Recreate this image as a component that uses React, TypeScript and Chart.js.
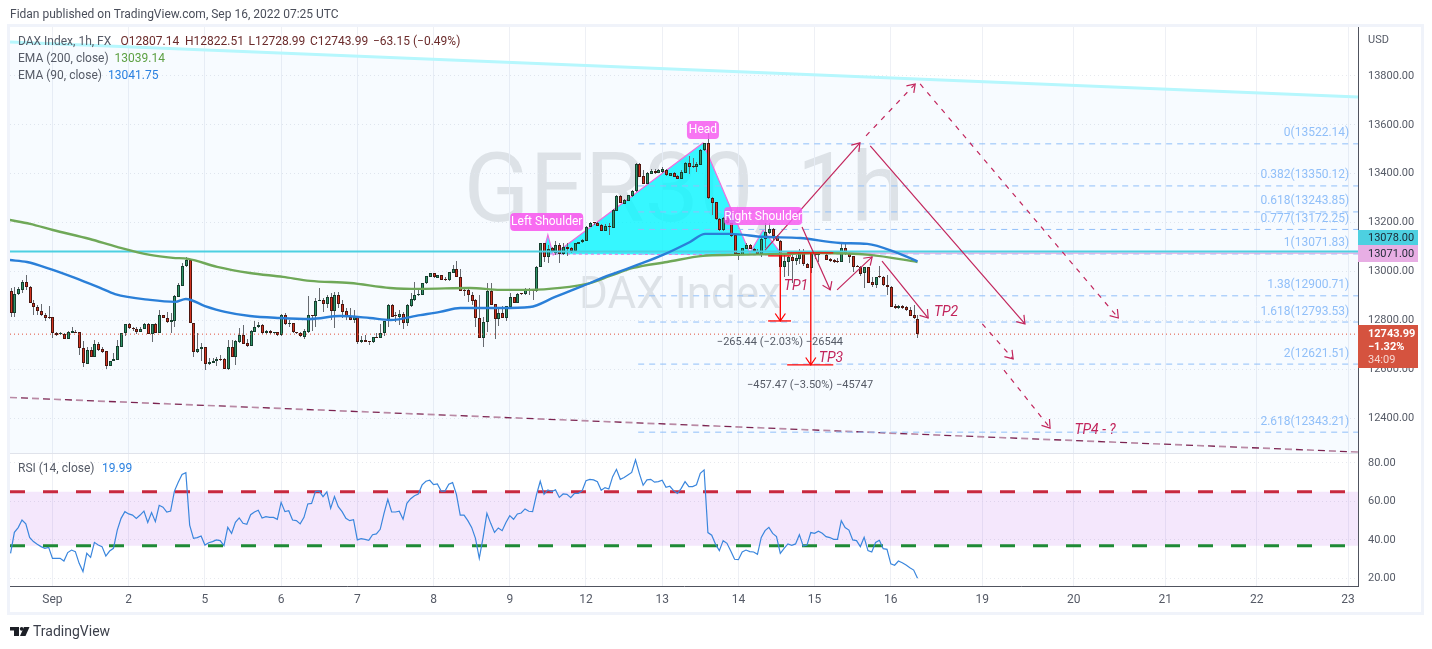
import { useEffect, useRef } from "react";
import { Chart, registerables } from "chart.js";
Chart.register(...registerables);

const opens = [
12921,12829,12907,12925,12959,12938,12873,12856,12840,12822,
12813,12813,12747,12743,12746,12726,12750,12754,12751,12686,
12623,12678,12652,12702,12682,12674,12615,12636,12638,12693,
12747,12784,12771,12766,12754,12766,12784,12746,12784,12750,
12821,12811,12795,12799,12897,12942,13023,13047,12791,12672,
12682,12690,12621,12627,12634,12641,12641,12603,12690,12652,
12713,12739,12706,12697,12754,12772,12780,12747,12756,12747,
12751,12739,12821,12784,12788,12751,12747,12734,12754,12820,
12820,12878,12884,12867,12895,12840,12903,12869,12837,12816,
12803,12813,12712,12720,12713,12712,12731,12730,12747,12796,
12862,12818,12816,12825,12791,12861,12884,12903,12905,12952,
12979,12993,12975,12985,12970,12964,12996,13009,12979,12925,
12925,12903,12884,12811,12730,12792,12919,12866,12807,12829,
12811,12856,12895,12873,12908,12907,12930,12921,12921,13020,
13115,13061,13095,13077,13107,13072,13099,13095,13084,13114,
13120,13126,13184,13199,13197,13189,13167,13186,13180,13249,
13309,13276,13289,13309,13330,13440,13391,13358,13400,13411,
13403,13407,13416,13392,13402,13391,13380,13405,13443,13428,
13429,13437,13495,13525,13300,13283,13214,13170,13218,13197,
13150,13075,13068,13094,13107,13092,13086,13072,13132,13156,
13173,13146,13126,13020,13041,13058,13045,13050,13086,13029,
13016,13071,13068,13075,13068,13052,13048,13041,13038,13095,
13071,13063,13020,13018,12993,13018,12956,12945,12979,12979,
12945,12938,12859,12849,12859,12857,12843,12823,12807.14];

const closes = [
12829,12907,12927,12959,12938,12873,12856,12840,12822,12811,
12811,12747,12742,12747,12726,12751,12756,12750,12686,12625,
12678,12652,12702,12679,12672,12615,12636,12641,12694,12747,
12784,12771,12765,12753,12766,12784,12746,12784,12750,12821,
12811,12795,12801,12900,12944,13023,13047,12791,12672,12682,
12690,12621,12630,12634,12641,12640,12603,12690,12652,12715,
12739,12705,12697,12756,12772,12780,12747,12756,12747,12750,
12739,12821,12784,12788,12751,12747,12735,12756,12821,12819,
12878,12884,12869,12895,12840,12903,12869,12836,12816,12803,
12813,12712,12720,12713,12712,12731,12730,12749,12796,12862,
12816,12817,12825,12791,12862,12886,12904,12908,12952,12980,
12993,12976,12985,12967,12964,12997,13009,12979,12922,12922,
12903,12881,12811,12730,12792,12919,12865,12807,12829,12811,
12858,12895,12873,12907,12907,12930,12921,12919,13020,13115,
13061,13094,13085,13107,13072,13099,13091,13084,13115,13120,
13129,13184,13199,13197,13188,13167,13186,13181,13251,13309,
13282,13293,13312,13330,13440,13388,13358,13402,13413,13402,
13416,13418,13394,13402,13388,13380,13409,13443,13429,13426,
13439,13497,13525,13300,13282,13214,13170,13218,13197,13146,
13072,13064,13095,13107,13092,13084,13072,13132,13162,13173,
13146,13126,13020,13043,13058,13043,13054,13086,13029,13016,
13072,13069,13075,13078,13049,13045,13037,13038,13095,13071,
13060,13020,13019,12990,13018,12955,12945,12977,12978,12943,
12938,12857,12850,12859,12850,12843,12820,12808,12743.99];

const highs = [
12931,12935,12935,12966,12986,12941,12884,12863,12867,12832,
12859,12813,12754,12754,12747,12756,12775,12761,12754,12716,
12690,12690,12720,12713,12693,12676,12636,12668,12720,12747,
12784,12788,12775,12772,12772,12791,12788,12786,12788,12843,
12824,12836,12829,12903,12952,13034,13058,13047,12791,12747,
12706,12690,12645,12645,12652,12659,12645,12720,12720,12720,
12768,12781,12723,12761,12798,12795,12786,12761,12761,12754,
12754,12826,12832,12802,12788,12754,12754,12764,12900,12822,
12891,12931,12891,12903,12914,12916,12918,12884,12850,12850,
12843,12813,12736,12741,12716,12734,12747,12786,12799,12867,
12867,12835,12843,12836,12867,12911,12957,12931,12955,12983,
12996,12996,12987,12987,12979,13000,13027,13043,13009,12931,
12927,12918,12886,12904,12813,12952,12952,12867,12856,12859,
12859,12911,12897,12911,12914,12931,12931,12927,13023,13118,
13118,13109,13102,13125,13115,13118,13118,13102,13118,13121,
13132,13186,13203,13203,13203,13195,13195,13197,13255,13313,
13312,13296,13315,13334,13445,13443,13416,13409,13418,13418,
13421,13426,13418,13405,13406,13395,13416,13450,13473,13463,
13450,13500,13527,13586,13304,13286,13218,13222,13225,13200,
13152,13077,13097,13116,13113,13095,13091,13136,13197,13197,
13177,13150,13129,13068,13064,13068,13068,13091,13091,13034,
13075,13078,13078,13082,13071,13054,13050,13054,13116,13113,
13078,13064,13027,13023,13020,13020,12979,12979,13023,12982,
12986,12941,12868,12862,12862,12859,12854,12864,12822.51];

const lows = [
12813,12813,12904,12911,12925,12870,12822,12822,12818,12799,
12805,12727,12736,12741,12726,12723,12747,12747,12659,12611,
12622,12649,12652,12676,12668,12601,12614,12636,12638,12693,
12738,12766,12758,12745,12753,12764,12745,12713,12747,12750,
12809,12788,12750,12775,12897,12941,13020,12788,12652,12668,
12636,12597,12618,12625,12614,12636,12600,12597,12652,12618,
12709,12704,12693,12696,12754,12769,12745,12745,12745,12745,
12736,12736,12781,12775,12747,12745,12731,12726,12747,12757,
12775,12878,12835,12852,12802,12771,12850,12809,12802,12800,
12788,12704,12706,12711,12700,12709,12728,12727,12736,12772,
12813,12795,12781,12764,12777,12856,12881,12900,12904,12949,
12979,12975,12974,12966,12961,12963,12996,12979,12919,12900,
12877,12863,12775,12727,12690,12754,12863,12723,12777,12809,
12798,12856,12870,12870,12906,12904,12904,12884,12918,13017,
13040,13036,13081,13068,13036,13068,13064,13075,13081,13113,
13118,13126,13181,13191,13186,13166,13166,13150,13178,13249,
13279,13275,13287,13306,13327,13385,13356,13358,13399,13399,
13402,13405,13391,13391,13385,13377,13379,13402,13399,13424,
13409,13436,13493,13297,13231,13211,13167,13167,13195,13143,
13071,13047,13066,13092,13091,13081,13069,13061,13095,13154,
13129,13124,13017,12979,12982,12952,13027,13031,13023,13014,
12993,13050,13041,13071,13046,13041,13034,13034,13037,13068,
13034,13000,13018,12982,12932,12952,12936,12932,12975,12941,
12904,12854,12846,12846,12846,12839,12817,12805,12728.99];

const rsiValues = [
33.0,43.9,46.4,50.3,48.3,41.3,39.1,37.7,36.5,35.6,
36.1,30.4,30.4,30.4,29.0,33.4,34.7,33.9,27.8,23.5,
33.0,30.9,38.7,37.3,36.5,31.6,34.2,35.6,45.1,51.2,
54.7,53.5,52.9,51.2,52.9,55.0,49.1,54.2,49.5,58.0,
57.0,54.5,55.0,65.4,70.0,74.0,75.0,47.7,40.8,41.2,
42.0,37.3,38.5,39.1,40.0,39.6,37.0,46.5,43.4,49.1,
51.4,48.6,48.1,53.1,54.5,55.4,51.4,52.1,51.7,51.7,
50.7,59.5,54.7,55.2,50.3,50.0,48.3,51.7,58.7,59.0,
65.1,65.4,62.5,65.0,56.4,62.5,57.3,54.7,51.2,50.0,
50.5,40.0,40.6,40.3,39.8,42.7,43.1,45.5,53.8,61.1,
54.5,54.5,54.9,50.7,59.0,61.4,63.0,63.9,68.6,70.5,
71.0,68.7,69.1,65.4,65.4,68.9,69.8,63.7,52.9,52.9,
50.0,46.5,40.8,30.4,41.3,53.8,48.6,43.9,46.2,44.8,
49.0,52.6,50.7,53.5,54.0,56.1,54.9,54.7,63.4,70.5,
63.7,66.0,65.1,66.0,62.1,63.9,63.7,62.0,64.2,64.2,
65.6,70.8,71.5,71.2,70.3,65.8,67.2,66.5,72.9,76.7,
71.5,72.4,73.8,75.1,81.6,74.6,68.4,71.2,71.5,70.0,
70.3,71.0,67.3,67.9,65.6,64.2,66.8,70.3,67.7,67.7,
68.7,74.6,76.4,43.8,42.4,37.7,34.4,39.6,38.2,34.2,
29.9,29.7,33.7,34.7,33.9,33.7,32.5,41.3,44.8,46.5,
43.4,41.7,33.0,35.6,37.9,37.2,37.9,42.7,36.8,37.3,
43.8,43.4,44.5,43.4,41.7,41.2,40.3,40.3,50.0,46.4,
45.1,40.0,39.6,36.5,41.3,34.4,33.7,38.7,39.8,35.4,
35.1,27.5,26.8,29.0,28.1,26.9,25.5,24.3,19.99];

const ema90Bars = [-0.2,4.3,10.3,16.9,23.5,27.4,36.6,43.2,46,51,56.3,62.8,70.7,78.6,86.5,94.3,99.6,107.5,112.7,118,123.2,128.5,136.3,142.9,149.5,157.3,165.2,171.2,178.3,182.3,188.8,197.5,207.2,217.7,224.8,232.7,238];
const ema90Values = [13047,13039,13011,12974,12933,12908,12884,12876,12888,12859,12835,12818,12810,12806,12818,12810,12802,12822,12835,12851,12851,12851,12855,12896,12937,12986,13031,13068,13121,13154,13154,13142,13137,13117,13113,13076,13041.75];
const ema200Bars = [-0.2,5.1,11.1,20.8,27.9,36.6,42.6,46.6,54.2,62.8,71.5,78.6,89.1,99.6,107.5,120.6,128.5,136.3,144.2,152.1,157.3,163.4,172.3,181.7,189.6,202.7,212.4,225.5,238];
const ema200Values = [13211,13195,13170,13133,13101,13068,13056,13052,13019,12994,12978,12962,12953,12933,12929,12933,12925,12925,12933,12953,12982,13015,13039,13064,13068,13072,13076,13068,13039.14];

const priceTicks = [12400,12600,12800,13000,13200,13400,13600,13800];
const rsiTicks = [20,40,60,80];
const dayTickBars = [11,31,51,71,91,111,131,151,171,191,211,231,255,279,303,327,351];
const dayTickLabels = ["Sep","2","5","6","7","8","9","12","13","14","15","16","19","20","21","22","23"];

const fibLevels = [13522.14,13350.12,13243.85,13172.25,13071.83,12900.71,12793.53,12621.51,12343.21];
const fibRatios = ["0","0.382","0.618","0.777","1","1.38","1.618","2","2.618"];

const xMin = -0.15, xMax = 353.6;
const priceMin = 12258, priceMax = 14000;
const rsiMin = 16, rsiMax = 85.2;
const fibStartBar = 164.7, fibLabelBar = 351.3;
const channelTop = [[xMin,13939],[xMax,13714]];
const channelBottom = [[xMin,12485],[xMax,12262]];
const patternOutline = [[139.7,13072],[141,13150],[142.4,13068],[181.7,13526],[194,13076],[197.5,13170],[202.5,13068]];
const solidArrows = [[198,13088,222.9,13526],[225.6,13514,266.2,12786],[207.7,13182,215.1,12925],[216.9,12925,226.1,13060],[228.7,13043,240.8,12810]];
const dashedArrows = [[224.5,13555,237.4,13767],[238.7,13767,290.7,12810],[255,12786,263.1,12643],[260.7,12597,272.8,12360]];
const measureTP1 = { bar: 202, from: 13064, to: 12798, left: 198.8, right: 204.8 };
const measureTP3 = { bar: 210, from: 13076, to: 12618, left: 203.8, right: 215.9 };
const hLineCyan = 13082, hLinePink = 13075, hLinePinkStart = 202, lastPrice = 12743.99;
const rsiUpper = 65, rsiLower = 37;

const FONT = "Roboto";
const GREY = "#555a66";
const MAROON = "#6b2b2b";
const PINK = "#c2255c";

const line = (pts: number[][], color: string, width: number, axis = "y", extra: any = {}) => ({
  type: "line", yAxisID: axis, data: pts.map(([x, y]) => ({ x, y })),
  borderColor: color, borderWidth: width, pointRadius: 0, tension: 0, fill: false, ...extra,
});

export default function App() {
  const ref = useRef<HTMLCanvasElement>(null);
  useEffect(() => {
    const bars = opens.map((_, i) => i);
    const up = (i: number) => closes[i] >= opens[i];
    const overlay = {
      id: "overlay",
      afterDatasetsUpdate(c: any) {
        // snap candle elements to whole pixels, like the crisp original
        c.getSortedVisibleDatasetMetas().forEach((m: any) => {
          if (m.type !== "bar") return;
          m.data.forEach((el: any) => {
            el.x = Math.round(el.x) + 0.5;
            el.y = Math.round(el.y);
            el.base = Math.round(el.base);
          });
        });
      },
      beforeDraw(c: any) {
        const g = c.ctx;
        g.save();
        g.fillStyle = "#fff";
        g.fillRect(0, 0, 1432, 649);
        g.strokeStyle = "#f0f3fa";
        g.lineWidth = 3;
        g.strokeRect(8.5, 25.5, 1414, 588);
        g.fillStyle = "rgba(42,46,57,0.12)";
        g.textAlign = "center";
        g.textBaseline = "middle";
        g.font = `97px ${FONT}`;
        g.fillText("GER30, 1h", 684, 197);
        g.font = `44px ${FONT}`;
        g.fillText("DAX Index", 680, 297);
        g.restore();
      },
      afterDatasetsDraw(c: any) {
        const g = c.ctx, X = c.scales.x, Y = c.scales.y;
        const px = (b: number) => X.getPixelForValue(b), py = (p: number) => Y.getPixelForValue(p);
        g.save();
        const head = (a: number[], color: string, size: number) => {
          const [x0, y0, x1, y1] = [px(a[0]), py(a[1]), px(a[2]), py(a[3])];
          const ang = Math.atan2(y1 - y0, x1 - x0);
          g.strokeStyle = color; g.lineWidth = 1.2; g.setLineDash([]);
          g.beginPath();
          g.moveTo(x1 - size * Math.cos(ang - 0.6), y1 - size * Math.sin(ang - 0.6));
          g.lineTo(x1, y1);
          g.lineTo(x1 - size * Math.cos(ang + 0.6), y1 - size * Math.sin(ang + 0.6));
          g.stroke();
        };
        [...solidArrows, ...dashedArrows].forEach((a) => head(a, PINK, 9));
        [measureTP1, measureTP3].forEach((m) => head([m.bar, m.from, m.bar, m.to], "#f00", 9));

        // pills
        const pill = (t: string, b: number, p: number, w: number, alpha: number) => {
          const x = px(b), y = py(p);
          g.fillStyle = `rgba(247,92,240,${alpha})`;
          g.beginPath();
          g.roundRect(x - w / 2, y - 9, w, 18, 4);
          g.fill();
          g.fillStyle = "#fff";
          g.font = `12px ${FONT}`;
          g.textAlign = "center"; g.textBaseline = "middle";
          g.fillText(t, x, y + 0.5);
        };
        pill("Left Shoulder", 140.7, 13203, 73, 0.9);
        pill("Head", 181.7, 13579, 32, 0.85);
        pill("Right Shoulder", 197.5, 13227, 78, 0.85);

        // fib labels
        g.font = `12px ${FONT}`;
        g.textAlign = "right"; g.textBaseline = "middle";
        g.fillStyle = "#90bff9";
        fibLevels.forEach((v, i) => g.fillText(`${fibRatios[i]}(${v.toFixed(2)})`, px(fibLabelBar), py(v) - 10.5));

        // annotation texts
        g.textAlign = "center";
        g.fillStyle = PINK;
        g.font = `italic 14px ${FONT}`;
        ([["TP1", 206.1, 12937], ["TP2", 245.5, 12831], ["TP3", 215.3, 12643], ["TP4 - ?", 284.6, 12352]] as any[]).forEach(([t, b, p]) => g.fillText(t, px(b), py(p)));
        g.fillStyle = GREY;
        g.font = `11px ${FONT}`;
        g.fillText("\u2212265.44 (\u22122.03%) \u221226544", px(201.9), py(12712));
        g.fillText("\u2212457.47 (\u22123.50%) \u221245747", px(209.8), py(12533));
        g.restore();
      },
      afterDraw(c: any) {
        const g = c.ctx;
        g.save();
        // pane separator
        g.strokeStyle = "#e0e3eb"; g.lineWidth = 1;
        g.beginPath(); g.moveTo(10, 453.5); g.lineTo(1358, 453.5); g.stroke();

        const text = (t: string, x: number, y: number, color: string, font = `12px ${FONT}`) => {
          g.font = font; g.fillStyle = color; g.textAlign = "left"; g.textBaseline = "middle";
          g.fillText(t, x, y);
        };
        text("Fidan published on TradingView.com, Sep 16, 2022 07:25 UTC", 10, 15, "#4a4e5a");
        text("DAX Index, 1h, FX", 18, 41.5, GREY);
        text("O12807.14", 120.5, 41.5, MAROON);
        text("H12822.51", 185, 41.5, MAROON);
        text("L12728.99", 248.5, 41.5, MAROON);
        text("C12743.99", 310, 41.5, MAROON);
        text("\u221263.15 (\u22120.49%)", 373, 41.5, MAROON);
        text("EMA (200, close)", 18, 58.5, GREY);
        text("13039.14", 114.5, 58.5, "#5da043");
        text("EMA (90, close)", 18, 75.5, GREY);
        text("13041.75", 108, 75.5, "#2a80e0");
        text("RSI (14, close)", 18, 469, GREY);
        text("19.99", 102, 469, "#2a80e0");
        text("USD", 1368, 40, GREY, `11px ${FONT}`);

        // price tags
        const tag = (y0: number, y1: number, bg: string) => { g.fillStyle = bg; g.fillRect(1358, y0, 60, y1 - y0); };
        tag(230, 245, "#4dd0e1");
        text("13078.00", 1368, 238.5, "#1d2733", `11px ${FONT}`);
        tag(245, 262, "#e8aee4");
        text("13071.00", 1368, 254, "#1d2733", `11px ${FONT}`);
        tag(325, 368, "#d5533f");
        text("12743.99", 1368, 334, "#fff", `bold 11px ${FONT}`);
        text("\u22121.32%", 1368, 347.5, "#fff", `bold 11px ${FONT}`);
        text("34:09", 1368, 360, "#f6d5cf", `11px ${FONT}`);

        // logo
        g.fillStyle = "#1c1f26";
        g.fillRect(10, 627, 9, 3.5);
        g.fillRect(14, 627, 5, 9);
        g.beginPath(); g.arc(21.7, 628.8, 1.9, 0, 7); g.fill();
        g.beginPath(); g.moveTo(24, 627); g.lineTo(29.5, 627); g.lineTo(25.5, 636); g.lineTo(20, 636); g.fill();
        text("TradingView", 33, 632, "#3b3f4a", `14px ${FONT}`);
        g.restore();
      },
    };

    const smooth = { cubicInterpolationMode: "monotone" };
    const datasets: any[] = [
      {
        type: "bar", yAxisID: "y", order: 10, grouped: false, barPercentage: 1, categoryPercentage: 1,
        maxBarThickness: 3, minBarLength: 1, borderSkipped: false, inflateAmount: 0, borderWidth: 1,
        data: bars.map((i) => ({ x: i, y: [opens[i], closes[i]] })),
        backgroundColor: bars.map((i) => (up(i) ? "#2f9468" : "#d23320")),
        borderColor: bars.map((i) => (up(i) ? "#163f2e" : "#4d1710")),
      },
      {
        type: "bar", yAxisID: "y", order: 11, grouped: false, barPercentage: 1, categoryPercentage: 1,
        maxBarThickness: 1, borderWidth: 0, inflateAmount: 0,
        data: bars.map((i) => ({ x: i, y: [lows[i], highs[i]] })),
        backgroundColor: "#666a70",
      },
      line(ema200Bars.map((b, i) => [b, ema200Values[i]]), "#6fa858", 2.4, "y", { order: 8, ...smooth }),
      line(ema90Bars.map((b, i) => [b, ema90Values[i]]), "#2a7fd8", 2.4, "y", { order: 7, ...smooth }),
      line(patternOutline, "#f06ce0", 1.2, "y", { order: 14, fill: "shape", backgroundColor: "rgba(0,246,255,0.78)" }),
      line([patternOutline[0], patternOutline[patternOutline.length - 1]], "#f06ce0", 1, "y", { order: 13, borderDash: [3, 3] }),
      line([...channelTop, [xMax, priceMin], [xMin, priceMin]], "rgba(0,0,0,0)", 0, "y", { order: 40, fill: "shape", backgroundColor: "rgba(33,130,243,0.035)" }),
      line(channelTop, "#b6f7fd", 3, "y", { order: 30 }),
      line(channelBottom, "#b98aa5", 1.7, "y", { order: 30, borderDash: [7, 15] }),
      line(channelBottom, "#7b2350", 1.3, "y", { order: 29, borderDash: [7, 15], borderDashOffset: 11 }),
      line([[xMin, hLineCyan], [xMax, hLineCyan]], "#4dd0e1", 2, "y", { order: 9 }),
      line([[hLinePinkStart, hLinePink], [xMax, hLinePink]], "#e1a7e1", 1.2, "y", { order: 9.5 }),
      line([[xMin, lastPrice], [xMax, lastPrice]], "#e2503a", 1, "y", { order: 9.7, borderDash: [1, 3] }),
      ...fibLevels.map((v) => line([[fibStartBar, v], [xMax, v]], "#90bff9", 1, "y", { order: 12, borderDash: [6, 5] })),
      ...solidArrows.map((a) => line([[a[0], a[1]], [a[2], a[3]]], PINK, 1.2, "y", { order: 3 })),
      ...dashedArrows.map((a) => line([[a[0], a[1]], [a[2], a[3]]], PINK, 1.2, "y", { order: 3, borderDash: [5, 6] })),
      ...[measureTP1, measureTP3].flatMap((m) => [
        line([[m.bar, m.from], [m.bar, m.to]], "#f00", 1.3, "y", { order: 2 }),
        line([[m.left, m.from], [m.right, m.from]], "#f00", 1.3, "y", { order: 2 }),
        line([[m.left, m.to], [m.right, m.to]], "#f00", 1.3, "y", { order: 2 }),
      ]),
      line(bars.map((i) => [i, rsiValues[i]]), "#3a86dd", 1.2, "yRsi", { order: 1 }),
      line([[xMin, rsiUpper], [xMax, rsiUpper], [xMax, rsiLower], [xMin, rsiLower]], "rgba(0,0,0,0)", 0, "yRsi", { order: 50, fill: "shape", backgroundColor: "rgba(155,39,230,0.11)" }),
      line([[xMin, rsiUpper], [xMax, rsiUpper]], "#c8283f", 3, "yRsi", { order: 5, borderDash: [15, 18] }),
      line([[xMin, rsiLower], [xMax, rsiLower]], "#1f8a36", 3, "yRsi", { order: 5, borderDash: [15, 18] }),
    ];

    const yCommon = {
      type: "linear", position: "right", stack: "panes", offset: false,
      grid: { color: "#e7e9ee", drawTicks: false, z: -1, offset: false },
      border: { color: "#50535e", dash: [1, 3], width: 1 },
      ticks: { padding: 10, color: GREY, font: { family: FONT, size: 11 }, callback: (v: number) => v.toFixed(2), autoSkip: false, maxRotation: 0 },
      afterFit: (s: any) => { s.width = 74; },
    };

    const chart = new Chart(ref.current!, {
      type: "bar",
      data: { datasets },
      plugins: [overlay],
      options: {
        animation: false, responsive: false, events: [],
        layout: { padding: { left: 10, top: 27, right: 0, bottom: 0 } },
        plugins: { legend: { display: false }, tooltip: { enabled: false } },
        scales: {
          x: {
            type: "linear", min: xMin, max: xMax, offset: false,
            grid: { color: "#eef0f5", drawTicks: false, offset: false },
            border: { color: "#50535e", width: 1 },
            ticks: { padding: 7, color: GREY, font: { family: FONT, size: 12 }, autoSkip: false, maxRotation: 0, callback: (v: number) => dayTickLabels[dayTickBars.indexOf(v)] ?? "" },
            afterBuildTicks: (s: any) => { s.ticks = dayTickBars.map((value) => ({ value })); },
            afterFit: (s: any) => { s.height = 63; },
          },
          y: { ...yCommon, min: priceMin, max: priceMax, stackWeight: 426,
            afterBuildTicks: (s: any) => { s.ticks = priceTicks.map((value) => ({ value })); } },
          yRsi: { ...yCommon, min: rsiMin, max: rsiMax, stackWeight: 133,
            afterBuildTicks: (s: any) => { s.ticks = rsiTicks.map((value) => ({ value })); } },
        },
      } as any,
    } as any);
    return () => chart.destroy();
  }, []);
  return <canvas ref={ref} width={1432} height={649} style={{ position: "absolute", left: 0, top: 0, display: "block" }} />;
}
